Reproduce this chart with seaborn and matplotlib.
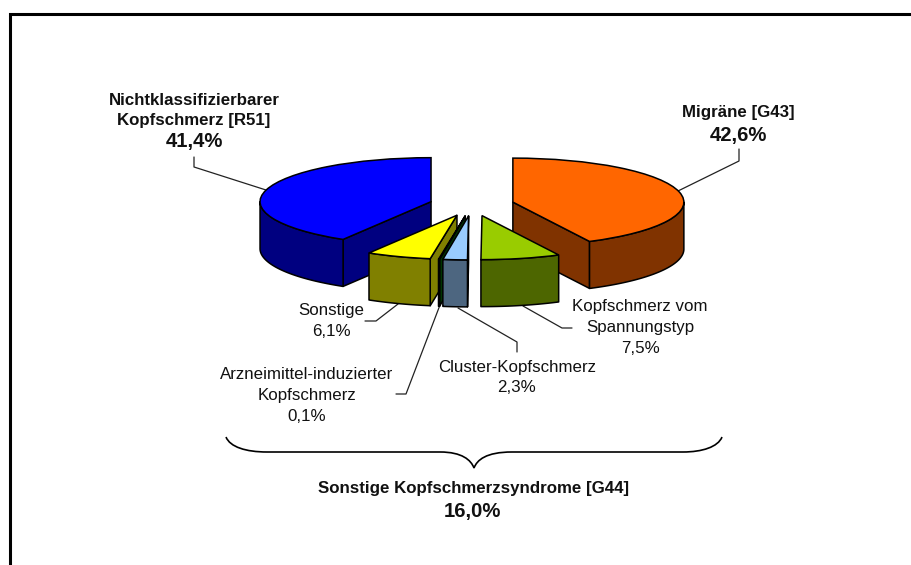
import numpy as np
import matplotlib
matplotlib.use("Agg")
import matplotlib.pyplot as plt
from matplotlib.path import Path
from matplotlib.patches import PathPatch, Polygon
from matplotlib.transforms import Affine2D
import seaborn as sns

# --- data -----------------------------------------------------------------
categories = ["Migräne [G43]", "Kopfschmerz vom\nSpannungstyp",
              "Cluster-Kopfschmerz", "Arzneimittel-induzierter\nKopfschmerz",
              "Sonstige", "Nichtklassifizierbarer\nKopfschmerz [R51]"]
shares = [42.6, 7.5, 2.3, 0.1, 6.1, 41.4]
share_labels = ["42,6%", "7,5%", "2,3%", "0,1%", "6,1%", "41,4%"]
group_label = "Sonstige Kopfschmerzsyndrome [G44]"
group_share = "16,0%"

top_colors = ["#FF6600", "#99CC00", "#99CCFF", "#006600", "#FFFF00", "#0000FF"]
side_colors = ["#803300", "#4D6600", "#4D6680", "#003300", "#808000", "#000080"]

# --- style / layout -------------------------------------------------------
sns.set_theme(style="white")
plt.rcParams["font.family"] = ["Liberation Sans", "DejaVu Sans"]
W, H = 911, 565
CX, CY = 472, 204.6        # pie centre (px)
RX, RY = 171, 44           # ellipse radii (px)
DEPTH = 47                 # height of the disc (px)
PULL = [42, 44, 44, 44, 44, 42.5]   # explosion per slice
LW = 1.1

fig = plt.figure(figsize=(W / 100, H / 100), dpi=100)
ax = fig.add_axes([0, 0, 1, 1])

# --- slices ---------------------------------------------------------------
wedges, _ = ax.pie(shares, startangle=90, counterclock=False, radius=1, center=(0, 0))
ax.set_aspect("auto")
ax.set_xlim(0, W)
ax.set_ylim(H, 0)
ax.axis("off")

# frame, open on the right and cut by the picture at the bottom
ax.plot([9.5, 9.5, W + 5], [H + 5, 13.5, 13.5], color="black", lw=2.2,
        solid_joinstyle="miter", zorder=1)

edges = np.concatenate([[0], np.cumsum(shares)]) / np.sum(shares) * 2 * np.pi

# painter's order: large slices first, then the small ones towards the cluster slice
order = [5, 0, 1, 4, 3, 2]
z = 3
for i in order:
    a0, a1 = edges[i], edges[i + 1]
    mid = (a0 + a1) / 2
    ax_x = CX + PULL[i] * np.sin(mid)
    ax_y = CY - PULL[i] * np.cos(mid) * RY / RX
    # cut face
    for a, visible in ((a0, np.sin(a0) < 0), (a1, np.sin(a1) > 0)):
        if visible:
            sx, sy = np.sin(a), -np.cos(a)
            ax.add_patch(Polygon([(ax_x, ax_y), (ax_x + RX * sx, ax_y + RY * sy),
                                  (ax_x + RX * sx, ax_y + RY * sy + DEPTH),
                                  (ax_x, ax_y + DEPTH)],
                                 closed=True, fc=side_colors[i], ec="black", lw=LW,
                                 joinstyle="round", zorder=z))
            z += 1
    # outer rim (front half of the ellipse only)
    lo, hi = max(a0, np.pi / 2), min(a1, 3 * np.pi / 2)
    if hi > lo:
        t = np.linspace(lo, hi, 80)
        xs = ax_x + RX * np.sin(t)
        ys = ax_y - RY * np.cos(t)
        ax.add_patch(Polygon(np.r_[np.c_[xs, ys], np.c_[xs, ys + DEPTH][::-1]],
                             closed=True, fc=side_colors[i], ec="black", lw=LW,
                             joinstyle="round", zorder=z))
        z += 1
    # top face: the pie wedge, mapped to the projected ellipse (pixel y points down)
    w = wedges[i]
    w.set_transform(Affine2D().scale(RX, -RY).translate(ax_x, ax_y) + ax.transData)
    w.set(facecolor=top_colors[i], edgecolor="black", linewidth=LW, zorder=z,
          clip_on=False)
    z += 1

# --- leaders --------------------------------------------------------------
leaders = [
    [(739, 149), (739, 161), (678, 191)],
    [(523, 306), (562, 328), (572, 328)],
    [(458, 308), (517, 342), (517, 352)],
    [(440, 305), (406, 394), (396, 394)],
    [(398, 304), (376, 321), (365, 321)],
    [(194, 157), (194, 167), (266, 190)],
]
for pts in leaders:
    ax.plot(*zip(*pts), color="#222222", lw=0.9, zorder=2)

# --- texts ----------------------------------------------------------------
FS = 12.2
BF2 = 14.6
LS = 1.49
tc = "#111111"
ax.text(738, 113, categories[0], ha="center", va="center", fontsize=FS, fontweight="bold", color=tc)
ax.text(738, 136, share_labels[0], ha="center", va="center", fontsize=BF2, fontweight="bold", color=tc)

ax.text(194, 110.5, categories[5], ha="center", va="center", fontsize=FS, fontweight="bold", color=tc, linespacing=LS)
ax.text(194, 142, share_labels[5], ha="center", va="center", fontsize=BF2, fontweight="bold", color=tc)

ax.text(640, 327.5, categories[1] + "\n" + share_labels[1], ha="center", va="center", fontsize=FS, color=tc, linespacing=LS)
ax.text(517, 377.5, categories[2] + "\n" + share_labels[2], ha="center", va="center", fontsize=FS, color=tc, linespacing=LS)
ax.text(307, 395.5, categories[3] + "\n" + share_labels[3], ha="center", va="center", fontsize=FS, color=tc, linespacing=LS)
ax.text(331, 321, categories[4] + "\n" + share_labels[4], ha="center", va="center", fontsize=FS, color=tc, linespacing=LS)

ax.text(474, 488, group_label, ha="center", va="center", fontsize=FS, fontweight="bold", color=tc)
ax.text(472, 512, group_share, ha="center", va="center", fontsize=BF2, fontweight="bold", color=tc)

# --- brace ----------------------------------------------------------------
L, R, TIP, Y0, Y1, Y2 = 226, 722, 474, 437, 452, 468
verts = [(L, Y0), (L + 4, Y1 - 5), (L + 20, Y1), (L + 41, Y1),
         (TIP - 34, Y1), (TIP - 12, Y1), (TIP - 3, Y2 - 8), (TIP, Y2),
         (TIP + 3, Y2 - 8), (TIP + 12, Y1), (TIP + 38, Y1),
         (R - 39, Y1), (R - 20, Y1), (R - 4, Y1 - 5), (R, Y0)]
codes = [Path.MOVETO, Path.CURVE4, Path.CURVE4, Path.CURVE4,
         Path.LINETO, Path.CURVE4, Path.CURVE4, Path.CURVE4,
         Path.CURVE4, Path.CURVE4, Path.CURVE4,
         Path.LINETO, Path.CURVE4, Path.CURVE4, Path.CURVE4]
ax.add_patch(PathPatch(Path(verts, codes), fc="none", ec="black", lw=1.2, zorder=2))

fig.savefig("out.png", dpi=100)
